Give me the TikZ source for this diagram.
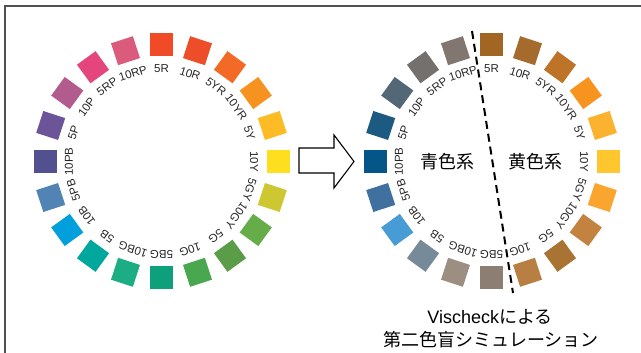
\documentclass[tikz,border=0pt]{standalone}
\usepackage{fontspec}
\setmainfont{Liberation Sans}
\newfontfamily\jpfont{Noto Sans CJK JP}
\definecolor{framegray}{RGB}{80,80,80}
\begin{document}
\begin{tikzpicture}[x=1pt,y=1pt,
  sq/.style={minimum size=23pt, inner sep=0pt, outer sep=0pt},
  lab/.style={font=\fontsize{11.5}{13}\selectfont, inner sep=0pt, text=black!85},
  jp/.style={font=\jpfont\fontsize{18}{23}\selectfont, inner sep=0pt, align=center},
  hollowarrow/.style={draw=black, fill=white, line width=1.1pt, line join=miter},
  divider/.style={draw=black, line width=2pt, dash pattern=on 8pt off 5pt}]
\useasboundingbox (0,0) rectangle (641,353);
% frame
\draw[framegray, line width=1.5pt] (5,0) -- (5,347) -- (641,347);
% left wheel
\begin{scope}[shift={(161.5,191.5)}]
\foreach \nm/\lcol [count=\i from 0] in
 {5R/F04A26,10R/EE4D2A,5YR/F26A25,10YR/F6921F,5Y/FDBB25,10Y/FEDF1F,
  5GY/CDC731,10GY/66AC48,5G/5A9C47,10G/49A84F,5BG/0EA07A,10BG/1DAD85,
  5B/00A79C,10B/019FDB,5PB/5183B5,10PB/52508F,5P/6B5497,10P/B25B8E,
  5RP/E3457C,10RP/DB5B7D}{
  \pgfmathsetmacro\ang{90-18*\i}
  \definecolor{sqcol}{HTML}{\lcol}
  \node[sq, fill=sqcol, rotate=\ang-90] (L\i) at (\ang:116.5) {};
  \node[lab, rotate=\ang-90] (LL\i) at (\ang:92.5) {\nm};
}
\end{scope}
% right wheel
\begin{scope}[shift={(491.5,191.5)}]
\foreach \nm/\rcol [count=\i from 0] in
 {5R/A16624,10R/A56B2D,5YR/BE7428,10YR/F7941F,5Y/FBB22E,10Y/FFC72D,
  5GY/FAA530,10GY/C48240,5G/A97433,10G/B87F43,5BG/8C7E73,10BG/9D8E82,
  5B/778A9A,10B/489CD6,5PB/40709F,10PB/035687,5P/1C5A81,10P/536777,
  5RP/73706D,10RP/817770}{
  \pgfmathsetmacro\ang{90-18*\i}
  \definecolor{sqcol}{HTML}{\rcol}
  \node[sq, fill=sqcol, rotate=\ang-90] (R\i) at (\ang:116.5) {};
  \node[lab, rotate=\ang-90] (RL\i) at (\ang:92.5) {\nm};
}
\end{scope}
% arrow
\draw[hollowarrow] (299,205) -- (334,205) -- (334,218) -- (354,191.5)
  -- (334,165) -- (334,180) -- (299,180) -- cycle;
% dashed divider
\coordinate (dtop) at (472,322);
\coordinate (dbot) at (513,60);
\draw[divider] (dtop) -- (dbot);
% group labels
\node[jp] (blue) at (447,191) {青色系};
\node[jp] (yellow) at (535,191) {黄色系};
% caption
\node[jp] (cap1) at (490,36) {{\rmfamily Vischeck}による};
\node[jp] (cap2) at (491,13) {第二色盲シミュレーション};
\end{tikzpicture}
\end{document}
